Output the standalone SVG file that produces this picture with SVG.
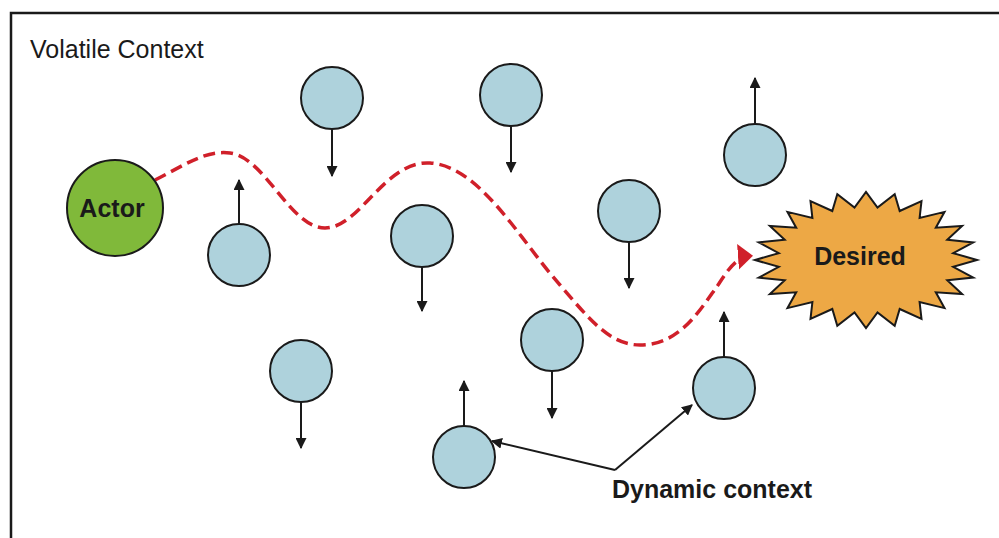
<svg xmlns="http://www.w3.org/2000/svg" width="999" height="538" viewBox="0 0 999 538">
<style>
.ball{fill:#aed2dc;stroke:#1a1a1a;stroke-width:2}
.mv{stroke:#1a1a1a;stroke-width:2;fill:none;marker-end:url(#ah)}
.lbl{font-family:"Liberation Sans",Arial,sans-serif;font-weight:bold;fill:#1a1a1a}
</style>
<defs>
<marker id="ah" viewBox="0 0 10 10" refX="9" refY="5" markerWidth="5.5" markerHeight="5.5" orient="auto"><path d="M0,0 L10,5 L0,10 Z" fill="#1a1a1a"/></marker>
<marker id="rh" viewBox="0 0 10 17" refX="8" refY="8.5" markerWidth="4.3" markerHeight="7.3" orient="auto"><path d="M0,0 L10,8.5 L0,17 Z" fill="#d0202a"/></marker>
</defs>
<rect width="999" height="538" fill="#fff"/>
<path d="M11,538 V13 H999" fill="none" stroke="#1a1a1a" stroke-width="2.5"/>
<text x="30" y="58" font-family="Liberation Sans,Arial,sans-serif" font-size="25" fill="#1a1a1a">Volatile Context</text>
<g id="connectors">
<path d="M155,180 C185,165 205,150 230,153 C265,157 290,228 325,228 C360,228 385,160 430,163 C480,166 520,240 560,285 C590,320 610,345 640,345 C680,345 700,310 718,285 C728,270 736,257 750,256" fill="none" stroke="#d0202a" stroke-width="3.5" stroke-dasharray="12 6" marker-end="url(#rh)"/>
<line class="mv" x1="332" y1="129" x2="332" y2="176"/>
<line class="mv" x1="511" y1="126" x2="511" y2="172"/>
<line class="mv" x1="755" y1="124" x2="755" y2="78"/>
<line class="mv" x1="239" y1="224" x2="239" y2="180"/>
<line class="mv" x1="422" y1="267" x2="422" y2="311"/>
<line class="mv" x1="629" y1="242" x2="629" y2="288"/>
<line class="mv" x1="552" y1="371" x2="552" y2="418"/>
<line class="mv" x1="724" y1="357" x2="724" y2="312"/>
<line class="mv" x1="301" y1="402" x2="301" y2="448"/>
<line class="mv" x1="464" y1="426" x2="464" y2="381"/>
<polyline class="mv" points="615,470 492,441"/>
<polyline class="mv" points="615,470 692,405"/>
</g>
<g id="ball1"><circle class="ball" cx="332" cy="98" r="31"/></g>
<g id="ball2"><circle class="ball" cx="511" cy="95" r="31"/></g>
<g id="ball3"><circle class="ball" cx="755" cy="155" r="31"/></g>
<g id="ball4"><circle class="ball" cx="239" cy="255" r="31"/></g>
<g id="ball5"><circle class="ball" cx="422" cy="236" r="31"/></g>
<g id="ball6"><circle class="ball" cx="629" cy="211" r="31"/></g>
<g id="ball7"><circle class="ball" cx="552" cy="340" r="31"/></g>
<g id="ball8"><circle class="ball" cx="724" cy="388" r="31"/></g>
<g id="ball9"><circle class="ball" cx="301" cy="371" r="31"/></g>
<g id="ball10"><circle class="ball" cx="464" cy="457" r="31"/></g>
<g id="actor">
<circle cx="115" cy="208" r="48" fill="#80b93a" stroke="#1a1a1a" stroke-width="2"/>
<text class="lbl" x="112" y="217" font-size="25" text-anchor="middle">Actor</text>
</g>
<g id="desired">
<polygon points="977,260 953.2,253.1 973.2,242.4 947.3,239.7 962.1,226 935.8,227.7 944.5,211.9 919.6,217.9 921.5,201.1 899.7,211 894.7,194.3 877.5,207.5 866,192 854.5,207.5 837.3,194.3 832.3,211 810.5,201.1 812.4,217.9 787.5,211.9 796.2,227.7 769.9,226 784.7,239.7 758.8,242.4 778.8,253.1 755,260 778.8,266.9 758.8,277.6 784.7,280.3 769.9,294 796.2,292.3 787.5,308.1 812.4,302.1 810.5,318.9 832.3,309 837.3,325.7 854.5,312.5 866,328 877.5,312.5 894.7,325.7 899.7,309 921.5,318.9 919.6,302.1 944.5,308.1 935.8,292.3 962.1,294 947.3,280.3 973.2,277.6 953.2,266.9" fill="#eda845" stroke="#1a1a1a" stroke-width="2" stroke-linejoin="miter"/>
<text class="lbl" x="860" y="265" font-size="25" text-anchor="middle">Desired</text>
</g>
<g id="label-dynamic">
<text class="lbl" x="712" y="498" font-size="25" text-anchor="middle">Dynamic context</text>
</g>
</svg>
